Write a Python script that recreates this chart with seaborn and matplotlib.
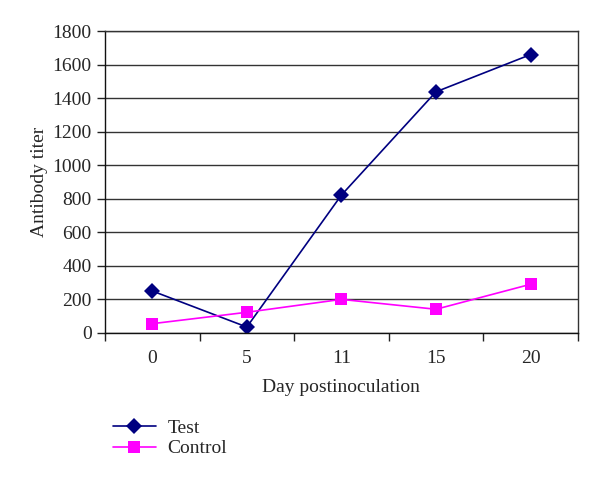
import pandas as pd
import numpy as np
import matplotlib
matplotlib.use("Agg")
import matplotlib.pyplot as plt
import seaborn as sns

days = ["0", "5", "11", "15", "20"]
test_titer = [250, 35, 822, 1438, 1660]
control_titer = [55, 123, 200, 141, 290]

df = pd.DataFrame({
    "day": days * 2,
    "titer": test_titer + control_titer,
    "group": ["Test"] * len(days) + ["Control"] * len(days),
})

sns.set_theme(style="white")
plt.rcParams["font.family"] = ["Liberation Serif", "DejaVu Serif"]

fig = plt.figure(figsize=(6, 4.79), dpi=100)
ax = fig.add_axes([0.175, 0.305, 0.788, 0.63])

sns.lineplot(
    data=df, x="day", y="titer", hue="group", style="group",
    palette={"Test": "#000080", "Control": "#FF00FF"},
    markers={"Test": "D", "Control": "s"}, dashes=False,
    markersize=8, linewidth=1.2, markeredgewidth=0,
    ax=ax, legend=False,
)

ax.set_xlim(-0.5, len(days) - 0.5)
ax.set_ylim(0, 1800)
ax.set_yticks(np.arange(0, 1801, 200))
ax.set_xticks(range(len(days)))
ax.set_xticklabels(days)
ax.set_xticks(np.arange(-0.5, len(days), 1), minor=True)
ax.tick_params(axis="x", which="major", bottom=True, length=0, pad=12, labelsize=14)
ax.tick_params(axis="x", which="minor", bottom=True, length=6, width=1, color="#222222", direction="out")
ax.tick_params(axis="y", length=6, width=1, color="#222222", direction="out", labelsize=14, left=True)
ax.grid(axis="y", color="#333333", linewidth=1)
ax.set_axisbelow(True)
for s in ax.spines.values():
    s.set_color("#333333")
    s.set_linewidth(1)
ax.spines["left"].set_color("#111111")
ax.spines["bottom"].set_color("#111111")

ax.set_xlabel("Day postinoculation", fontsize=14, labelpad=9)
ax.set_ylabel("Antibody titer", fontsize=14, labelpad=3)

handles = [
    plt.Line2D([], [], color="#000080", marker="D", markersize=8, markeredgewidth=0, linewidth=1.2),
    plt.Line2D([], [], color="#FF00FF", marker="s", markersize=8, markeredgewidth=0, linewidth=1.2),
]
fig.legend(handles, ["Test", "Control"], loc="upper left", bbox_to_anchor=(0.172, 0.145),
           frameon=False, fontsize=14, handlelength=2.2, handletextpad=0.6,
           labelspacing=0.15, borderpad=0)

fig.savefig("out.png", dpi=100)
